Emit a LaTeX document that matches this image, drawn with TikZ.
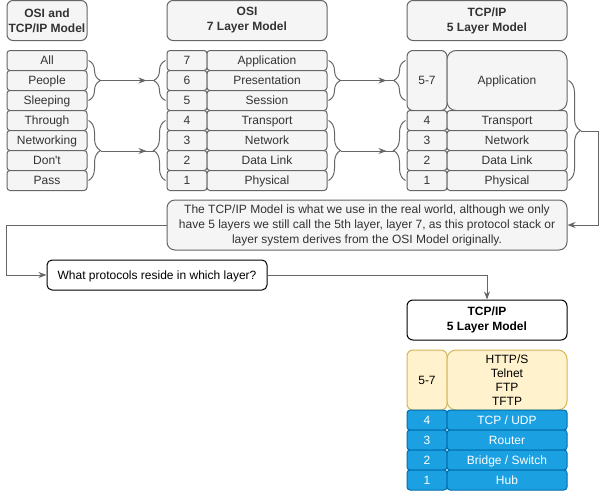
\documentclass[tikz,border=0pt]{standalone}
\usepackage{fontspec}
\setmainfont{Liberation Sans}
\usetikzlibrary{arrows.meta,decorations.pathreplacing,decorations.markings}

\definecolor{boxfill}{HTML}{F5F5F5}
\definecolor{boxline}{HTML}{666666}
\definecolor{boxtext}{HTML}{333333}
\definecolor{appfill}{HTML}{FFF2CC}
\definecolor{appline}{HTML}{D6B656}
\definecolor{netfill}{HTML}{1BA1E2}
\definecolor{netline}{HTML}{006EAF}

\tikzset{
    cell/.style={draw=boxline, fill=boxfill, text=boxtext, line width=1pt,
        rounded corners=3pt, minimum height=20pt, inner sep=0pt,
        font=\fontsize{12}{15}\selectfont},
    oneline/.style={text height=8.6pt, text depth=0pt},
    numcell/.style={cell, oneline, minimum width=40pt},
    namecell/.style={cell, oneline, minimum width=120pt},
    wordcell/.style={cell, oneline, minimum width=80pt},
    header/.style={cell, rounded corners=6pt, minimum width=160pt, minimum height=40pt,
        align=center, font=\fontsize{12}{15}\selectfont\bfseries},
    appcell/.style={draw=appline, fill=appfill, text=black, minimum height=60pt},
    netcell/.style={draw=netline, fill=netfill, text=white},
    curly/.style={draw=boxline, line width=1pt, decorate,
        decoration={brace, amplitude=12pt}},
    line/.style={draw=boxline, line width=1pt},
    arrow/.style={line, -{Stealth[length=8pt,width=6pt,inset=2.5pt]}},
    tobrace/.style={line, postaction={decorate}, decoration={markings,
        mark=at position -7pt with {\arrow[boxline]{Stealth[length=8pt,width=6pt,inset=2.5pt]}}}}
}

\begin{document}
\begin{tikzpicture}[x=1pt, y=-1pt]

    \useasboundingbox (0,0) rectangle (606,491);

    % mnemonic
    \node[header, minimum width=80pt] (mnemHead) at (47,20.5) {OSI and\\TCP/IP Model};
    \node[wordcell] (all) at (47,60.5) {All};
    \node[wordcell] (people) at (47,80.5) {People};
    \node[wordcell] (sleeping) at (47,100.5) {Sleeping};
    \node[wordcell] (through) at (47,120.5) {Through};
    \node[wordcell] (networking) at (47,140.5) {Networking};
    \node[wordcell] (dont) at (47,160.5) {Don\textquotesingle t};
    \node[wordcell] (pass) at (47,180.5) {Pass};

    % OSI model
    \node[header] (osiHead) at (247,20.5) {OSI\\7 Layer Model};
    \node[numcell] (o7) at (187,60.5) {7};
    \node[numcell] (o6) at (187,80.5) {6};
    \node[numcell] (o5) at (187,100.5) {5};
    \node[numcell] (o4) at (187,120.5) {4};
    \node[numcell] (o3) at (187,140.5) {3};
    \node[numcell] (o2) at (187,160.5) {2};
    \node[numcell] (o1) at (187,180.5) {1};
    \node[namecell] (oApp) at (267,60.5) {Application};
    \node[namecell] (oPres) at (267,80.5) {Presentation};
    \node[namecell] (oSess) at (267,100.5) {Session};
    \node[namecell] (oTrans) at (267,120.5) {Transport};
    \node[namecell] (oNet) at (267,140.5) {Network};
    \node[namecell] (oLink) at (267,160.5) {Data Link};
    \node[namecell] (oPhys) at (267,180.5) {Physical};

    % TCP/IP model
    \node[header] (tcpHead) at (487,20.5) {TCP/IP\\5 Layer Model};
    \node[numcell, minimum height=60pt, rounded corners=6pt] (t57) at (427,80.5) {5-7};
    \node[namecell, minimum height=60pt, rounded corners=9pt] (tApp) at (507,80.5) {Application};
    \node[numcell] (t4) at (427,120.5) {4};
    \node[numcell] (t3) at (427,140.5) {3};
    \node[numcell] (t2) at (427,160.5) {2};
    \node[numcell] (t1) at (427,180.5) {1};
    \node[namecell] (tTrans) at (507,120.5) {Transport};
    \node[namecell] (tNet) at (507,140.5) {Network};
    \node[namecell] (tLink) at (507,160.5) {Data Link};
    \node[namecell] (tPhys) at (507,180.5) {Physical};

    % braces
    \draw[curly] ([xshift=1]all.east) -- ([xshift=1]sleeping.east);
    \draw[curly] ([xshift=1]through.east) -- ([xshift=1]pass.east);
    \draw[curly] ([xshift=-1]o5.west) -- ([xshift=-1]o7.west);
    \draw[curly] ([xshift=-1]o1.west) -- ([xshift=-1]o4.west);
    \draw[curly] ([xshift=1]oApp.east) -- ([xshift=1]oSess.east);
    \draw[curly] ([xshift=1]oTrans.east) -- ([xshift=1]oPhys.east);
    \draw[curly] ([shift={(-1,20)}]t57.west) -- ([shift={(-1,-20)}]t57.west);
    \draw[curly] ([xshift=-1]t1.west) -- ([xshift=-1]t4.west);
    \draw[curly] ([xshift=1]tApp.east) -- ([xshift=1]tPhys.east);

    \coordinate (mnemTipA) at ([xshift=13]people.east);
    \coordinate (mnemTipB) at ([xshift=13]networking.south east);
    \coordinate (osiInA) at ([xshift=-13]o6.west);
    \coordinate (osiInB) at ([xshift=-13]o3.south west);
    \coordinate (osiOutA) at ([xshift=13]oPres.east);
    \coordinate (osiOutB) at ([xshift=13]oNet.south east);
    \coordinate (tcpInA) at ([xshift=-13]t57.west);
    \coordinate (tcpInB) at ([xshift=-13]t3.south west);
    \coordinate (tcpOut) at ([xshift=13]tTrans.south east);

    \draw[tobrace] (mnemTipA) -- (osiInA);
    \draw[tobrace] (mnemTipB) -- (osiInB);
    \draw[tobrace] (osiOutA) -- (tcpInA);
    \draw[tobrace] (osiOutB) -- (tcpInB);

    % note and question
    \node[cell, minimum width=400pt, minimum height=50pt, rounded corners=8pt, align=center] (note) at (367,225)
        {The TCP/IP Model is what we use in the real world, although we only\\
         have 5 layers we still call the 5th layer, layer 7, as this protocol stack or\\
         layer system derives from the OSI Model originally.};
    \node[cell, oneline, draw=black, fill=white, text=black, minimum width=220pt, minimum height=30pt,
        rounded corners=5pt] (question) at (157,275) {What protocols reside in which layer?};

    \draw[arrow] (tcpOut) -- ++(18,0) |- (note.east);
    \draw[arrow] (note.west) -- ++(-160,0) |- (question.west);

    % protocols per layer
    \node[header, draw=black, fill=white, text=black] (stackHead) at (487,320) {TCP/IP\\5 Layer Model};
    \draw[arrow] (question.east) -| (stackHead.north);

    \node[numcell, appcell, rounded corners=6pt] (s57) at (427,380) {5-7};
    \node[cell, appcell, minimum width=120pt, rounded corners=9pt, align=center,
        font=\fontsize{12}{14}\selectfont] (sProto) at (507,380) {HTTP/S\\Telnet\\FTP\\TFTP};
    \node[numcell, netcell] (s4) at (427,420) {4};
    \node[numcell, netcell] (s3) at (427,440) {3};
    \node[numcell, netcell] (s2) at (427,460) {2};
    \node[numcell, netcell] (s1) at (427,480) {1};
    \node[namecell, netcell] (sTcp) at (507,420) {TCP / UDP};
    \node[namecell, netcell] (sRouter) at (507,440) {Router};
    \node[namecell, netcell] (sBridge) at (507,460) {Bridge / Switch};
    \node[namecell, netcell] (sHub) at (507,480) {Hub};

\end{tikzpicture}
\end{document}
